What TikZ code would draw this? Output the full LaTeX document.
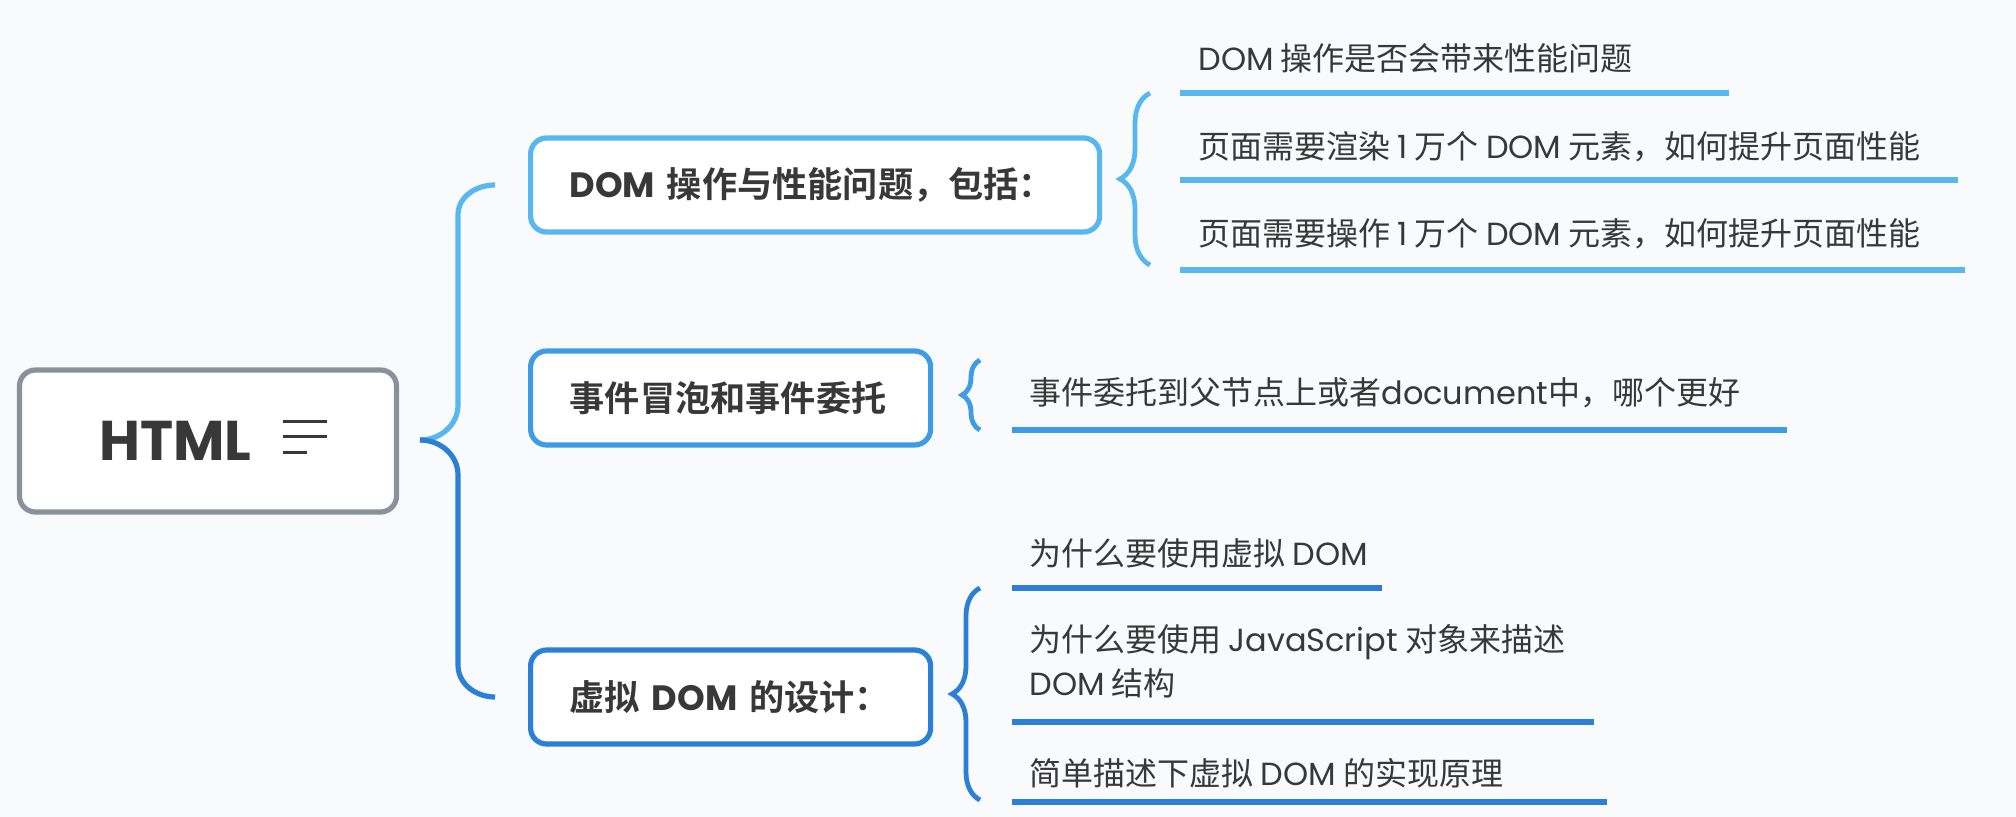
\documentclass[tikz,border=0pt]{standalone}
\usepackage{fontspec}
\setmainfont{Noto Sans CJK SC}[BoldFont={Noto Sans CJK SC Bold}]
\newfontfamily\lat{Poppins}
\usetikzlibrary{decorations.pathreplacing}
\definecolor{skyblue}{HTML}{58B7EE}
\definecolor{midblue}{HTML}{3E9BE5}
\definecolor{deepblue}{HTML}{2C7FD7}
\definecolor{rootgray}{HTML}{8B919B}
\definecolor{inkgray}{HTML}{383838}
\definecolor{paper}{HTML}{F9FAFB}
\tikzset{
  root/.style={draw=rootgray, line width=2.6pt, rounded corners=8pt, fill=white,
    minimum height=71pt, inner xsep=40pt, text width=108.5pt, align=left,
    font=\fontsize{28}{30}\selectfont\lat\bfseries, text=inkgray},
  topic/.style={draw=#1, line width=2.6pt, rounded corners=8pt, fill=white,
    minimum height=47pt, inner xsep=19.5pt, anchor=west, align=left,
    font=\fontsize{17.6}{20}\selectfont\bfseries, text=inkgray},
  leaf/.style={anchor=west, inner sep=0pt, align=left, text=inkgray,
    font=\fontsize{16}{22}\selectfont},
  uline/.style={draw=#1, line width=2.6pt},
  bracket/.style={draw=#1, line width=2.4pt, decorate},
  branch/.style={draw=#1, line width=2.6pt},
  iconline/.style={draw=inkgray, line width=1.5pt}
}
\begin{document}
\begin{tikzpicture}[x=0.5pt, y=-0.5pt]
\fill[paper] (0,0) rectangle (2016,817);
\useasboundingbox (0,0) rectangle (2016,817);

\node[root] (html) at (208,441) {HTML};
\foreach \y/\len in {422/44, 437/44, 453/24}
  \draw[iconline] (283,\y) -- ++(\len,0);

\node[topic=skyblue, text width=245.5pt] (dom) at (528,185) {{\lat DOM} 操作与性能问题，包括：};
\node[topic=midblue, text width=161pt] (event) at (528,398) {事件冒泡和事件委托};
\node[topic=deepblue, text width=161pt] (vdom) at (528,697) {虚拟 {\lat DOM} 的设计：};

\coordinate (fork) at (420,440);
\coordinate (domin) at ([xshift=-16.5pt]dom.west);
\coordinate (vdomin) at ([xshift=-16.5pt]vdom.west);
\draw[branch=skyblue] (fork) to[out=0,in=-90] (458,405) -- (458,215) to[out=90,in=180] (domin);
\draw[branch=deepblue] (fork) to[out=0,in=90] (458,475) -- (458,665) to[out=-90,in=180] (vdomin);

\node[leaf] (dom1) at (1198,58) {{\lat DOM} 操作是否会带来性能问题};
\node[leaf] (dom2) at (1198,147) {页面需要渲染 {\lat 1} 万个 {\lat DOM} 元素，如何提升页面性能};
\node[leaf] (dom3) at (1198,234) {页面需要操作 {\lat 1} 万个 {\lat DOM} 元素，如何提升页面性能};
\draw[uline=skyblue] (1180,93) -- (1729,93);
\draw[uline=skyblue] (1180,180) -- (1958,180);
\draw[uline=skyblue] (1180,270) -- (1965,270);
\draw[bracket=skyblue, decoration={brace, amplitude=15pt}] (1150,265) -- (1150,93);

\node[leaf] (event1) at (1029,393) {事件委托到父节点上或者{\lat document}中，哪个更好};
\draw[uline=midblue] (1012,430) -- (1787,430);
\draw[bracket=midblue, decoration={brace, amplitude=9pt}] (980,430) -- (980,360);

\node[leaf] (vdom1) at (1029,553) {为什么要使用虚拟 {\lat DOM}};
\node[leaf] (vdom2) at (1029,661) {为什么要使用 {\lat JavaScript} 对象来描述\\{\lat DOM} 结构};
\node[leaf] (vdom3) at (1029,773) {简单描述下虚拟 {\lat DOM} 的实现原理};
\draw[uline=deepblue] (1012,588) -- (1382,588);
\draw[uline=deepblue] (1012,722) -- (1594,722);
\draw[uline=deepblue] (1012,802) -- (1607,802);
\draw[bracket=deepblue, decoration={brace, amplitude=14pt}] (980,800) -- (980,588);
\end{tikzpicture}
\end{document}
